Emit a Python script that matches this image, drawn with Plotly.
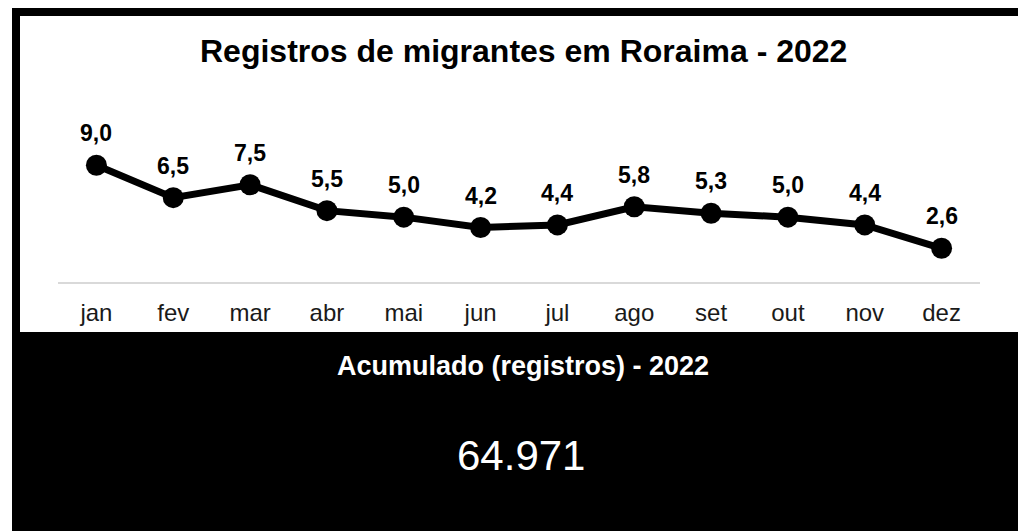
import plotly.graph_objects as go

months = ["jan", "fev", "mar", "abr", "mai", "jun", "jul", "ago", "set", "out", "nov", "dez"]
registros_mil = [9.0, 6.5, 7.5, 5.5, 5.0, 4.2, 4.4, 5.8, 5.3, 5.0, 4.4, 2.6]
titulo = "Registros de migrantes em Roraima - 2022"
acumulado_titulo = "Acumulado (registros) - 2022"
acumulado_valor = "64.971"

W, H = 1018, 531
L, R, T, B = 58, 980, 100, 282
FONT = "Liberation Sans, Arial, sans-serif"


def px(x):
    return (x - L) / (R - L)


def py(y):
    return (B - y) / (B - T)


fig = go.Figure()
fig.add_trace(go.Scatter(
    x=months, y=registros_mil, mode="lines+markers",
    line=dict(color="black", width=7),
    marker=dict(color="black", size=21),
    cliponaxis=False, hoverinfo="skip",
))


def block(x0, x1, y0, y1):
    return dict(type="rect", xref="paper", yref="paper", x0=px(x0), x1=px(x1), y0=py(y0), y1=py(y1),
                fillcolor="black", line=dict(width=0), layer="below")


shapes = [
    block(12, W + 40, 8, 16),         # top border
    block(12, 20, 8, 332),            # left border
    block(12, W + 40, 332, H + 20),   # bottom panel
]

annotations = [
    dict(x=m, y=v, xref="x", yref="y", text=f"<b>{v:.1f}</b>".replace(".", ","),
         showarrow=False, xanchor="center", yanchor="middle", yshift=32,
         font=dict(family=FONT, size=23, color="black"))
    for m, v in zip(months, registros_mil)
]

annotations += [
    dict(text=f"<b>{titulo}</b>", xref="paper", yref="paper", x=px(523), y=py(51),
         showarrow=False, xanchor="center", yanchor="middle",
         font=dict(family=FONT, size=32, color="black")),
    dict(text=f"<b>{acumulado_titulo}</b>", xref="paper", yref="paper", x=px(523), y=py(366),
         showarrow=False, xanchor="center", yanchor="middle",
         font=dict(family=FONT, size=27, color="white")),
    dict(text=acumulado_valor, xref="paper", yref="paper", x=px(521), y=py(455),
         showarrow=False, xanchor="center", yanchor="middle",
         font=dict(family=FONT, size=42, color="white")),
]

fig.update_layout(
    width=W, height=H,
    margin=dict(l=L, r=W - R, t=T, b=H - B),
    paper_bgcolor="white", plot_bgcolor="rgba(0,0,0,0)",
    showlegend=False,
    shapes=shapes, annotations=annotations,
    xaxis=dict(range=[-0.5, 11.5], showgrid=False, zeroline=False,
               showline=True, linecolor="#d9d9d9", linewidth=2,
               ticks="", ticklabelstandoff=8,
               tickfont=dict(family=FONT, size=24, color="#1a1a1a"), fixedrange=True),
    yaxis=dict(range=[0, (B - T) / 12.97], visible=False, fixedrange=True),
)

fig.write_html(
    "out.html",
    config={"displayModeBar": False},
    post_script="document.body.style.margin='0';document.body.style.overflow='hidden';",
)
